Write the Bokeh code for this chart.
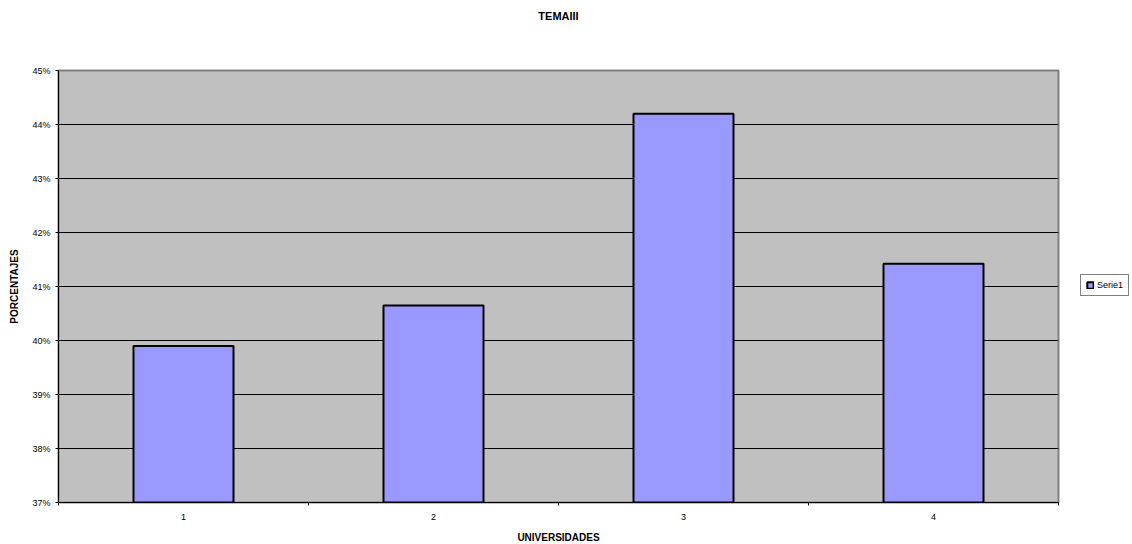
from bokeh.plotting import figure
from bokeh.models import Range1d, FixedTicker, NumeralTickFormatter, Legend, LegendItem, Title
from bokeh.embed import file_html
from bokeh.resources import INLINE

# ---- data ----
titulo = "TEMAIII"
universidades = ["1", "2", "3", "4"]
posiciones = [1, 2, 3, 4]
porcentajes = [0.399, 0.4065, 0.442, 0.4142]
serie_nombre = "Serie1"
y_ticks = [0.37, 0.38, 0.39, 0.40, 0.41, 0.42, 0.43, 0.44, 0.45]
x_limites = [0.5, 1.5, 2.5, 3.5, 4.5]

FONT = "Liberation Sans"

p = figure(title=None, frame_width=1000, frame_height=432, output_backend="svg", toolbar_location=None,
           x_range=Range1d(0.5, 4.5), y_range=Range1d(0.37, 0.45),
           min_border_left=58, min_border_right=74, min_border_top=70, min_border_bottom=42)

p.background_fill_color = "#C0C0C0"
p.border_fill_color = "white"
p.outline_line_color = "#808080"
p.outline_line_width = 2

# spacer between frame and title, then the title itself (further out)
spacer = Title(text=" ", text_font=FONT, text_font_size="11px", standoff=30)
p.add_layout(spacer, "above")
main_title = Title(text=titulo, align="center", text_font=FONT, text_font_size="11px",
                   text_font_style="bold", text_color="black", standoff=10)
p.add_layout(main_title, "above")

r = p.vbar(x=posiciones, top=porcentajes, bottom=0.37, width=0.4,
           fill_color="#9999FF", line_color="black", line_width=2)

# grid
p.xgrid.grid_line_color = None
p.ygrid.grid_line_color = "black"
p.ygrid.grid_line_width = 1
p.ygrid.ticker = FixedTicker(ticks=y_ticks)

# y axis
p.yaxis.ticker = FixedTicker(ticks=y_ticks)
p.yaxis.formatter = NumeralTickFormatter(format="0%")
p.yaxis.axis_label = "PORCENTAJES"
p.yaxis.axis_label_text_font = FONT
p.yaxis.axis_label_text_font_size = "10px"
p.yaxis.axis_label_text_font_style = "bold"
p.yaxis.axis_label_text_color = "black"
p.yaxis.axis_label_standoff = 9
p.yaxis.major_label_text_font = FONT
p.yaxis.major_label_text_font_size = "9px"
p.yaxis.major_label_text_color = "black"
p.yaxis.major_label_standoff = 5
p.yaxis.major_tick_out = 3
p.yaxis.major_tick_in = 0
p.yaxis.minor_tick_out = 0
p.yaxis.minor_tick_in = 0
p.yaxis.axis_line_color = "black"
p.yaxis.axis_line_width = 1

# x axis
p.xaxis.ticker = FixedTicker(ticks=posiciones, minor_ticks=x_limites)
p.xaxis.major_label_overrides = {pos: lab for pos, lab in zip(posiciones, universidades)}
p.xaxis.axis_label = "UNIVERSIDADES"
p.xaxis.axis_label_text_font = FONT
p.xaxis.axis_label_text_font_size = "10px"
p.xaxis.axis_label_text_font_style = "bold"
p.xaxis.axis_label_text_color = "black"
p.xaxis.axis_label_standoff = 9
p.xaxis.major_label_text_font = FONT
p.xaxis.major_label_text_font_size = "9px"
p.xaxis.major_label_text_color = "black"
p.xaxis.major_label_standoff = 8
p.xaxis.major_tick_out = 0
p.xaxis.major_tick_in = 0
p.xaxis.minor_tick_out = 3
p.xaxis.minor_tick_in = 0
p.xaxis.minor_tick_line_color = "black"
p.xaxis.axis_line_color = "black"
p.xaxis.axis_line_width = 1

# legend (right side panel)
legend = Legend(items=[LegendItem(label=serie_nombre, renderers=[r])])
legend.location = (22, 206)
legend.margin = 0
legend.padding = 5
legend.spacing = 0
legend.glyph_width = 8
legend.glyph_height = 8
legend.label_height = 10
legend.label_standoff = 3
legend.label_text_font = FONT
legend.label_text_font_size = "9px"
legend.label_text_color = "black"
legend.border_line_color = "black"
legend.border_line_width = 1
legend.background_fill_color = "white"
p.add_layout(legend, "right")

open("out.html", "w").write(file_html(p, INLINE))
